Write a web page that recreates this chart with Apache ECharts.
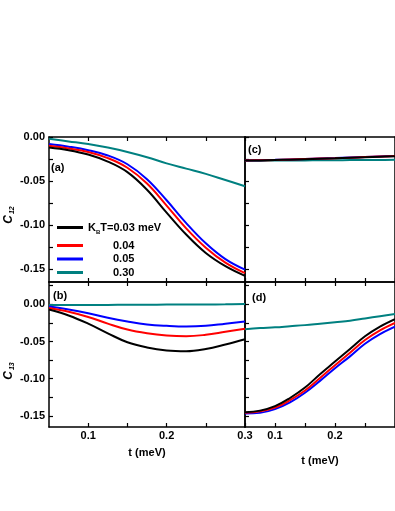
<!DOCTYPE html>
<html>
<head>
<meta charset="utf-8">
<script src="https://cdn.jsdelivr.net/npm/echarts@6/dist/echarts.min.js"></script>
<style>
  html, body { margin: 0; padding: 0; background: #fff; }
  #chart { width: 395px; height: 511px; }
</style>
</head>
<body>
<div id="chart"></div>
<script>
// t (meV) grid shared by every curve
const tVals = [0.05, 0.075, 0.1, 0.125, 0.15, 0.175, 0.2, 0.225, 0.25, 0.275, 0.3];
const tempNames = ['0.03', '0.04', '0.05', '0.30'];
const lineColors = ['#000000', '#ff0000', '#0000ff', '#008080'];

// (a) C12, left
const c12a_003 = [-0.012, -0.015, -0.020, -0.028, -0.040, -0.060, -0.086, -0.111, -0.132, -0.147, -0.158];
const c12a_004 = [-0.010, -0.013, -0.017, -0.024, -0.035, -0.053, -0.078, -0.104, -0.126, -0.143, -0.155];
const c12a_005 = [-0.008, -0.011, -0.015, -0.021, -0.031, -0.048, -0.072, -0.098, -0.121, -0.139, -0.151];
const c12a_030 = [-0.002, -0.005, -0.008, -0.012, -0.017, -0.023, -0.030, -0.036, -0.042, -0.049, -0.056];
// (c) C12, right
const c12c_003 = [-0.0268, -0.0266, -0.0262, -0.0258, -0.0253, -0.0248, -0.0243, -0.0237, -0.0231, -0.0225, -0.0219];
const c12c_004 = [-0.0267, -0.0265, -0.0261, -0.0256, -0.0251, -0.0246, -0.0241, -0.0235, -0.0229, -0.0223, -0.0217];
const c12c_005 = [-0.0266, -0.0264, -0.0260, -0.0255, -0.0250, -0.0245, -0.0240, -0.0234, -0.0228, -0.0222, -0.0216];
const c12c_030 = [-0.0270, -0.0269, -0.0268, -0.0267, -0.0266, -0.0265, -0.0264, -0.0263, -0.0262, -0.0261, -0.0260];
// (b) C13, left
const c13b_003 = [-0.007, -0.015, -0.026, -0.039, -0.051, -0.058, -0.062, -0.063, -0.060, -0.054, -0.047];
const c13b_004 = [-0.005, -0.010, -0.017, -0.026, -0.034, -0.039, -0.042, -0.043, -0.041, -0.037, -0.033];
const c13b_005 = [-0.003, -0.007, -0.012, -0.018, -0.023, -0.027, -0.029, -0.030, -0.029, -0.026, -0.023];
const c13b_030 = [-0.001, -0.001, -0.001, -0.0008, -0.0006, -0.0005, -0.0004, -0.0003, -0.0002, 0.0, 0.0003];
// (d) C13, right
const c13d_003 = [-0.145, -0.143, -0.137, -0.126, -0.112, -0.094, -0.077, -0.060, -0.043, -0.030, -0.020];
const c13d_004 = [-0.146, -0.144, -0.139, -0.129, -0.116, -0.099, -0.082, -0.065, -0.048, -0.035, -0.025];
const c13d_005 = [-0.147, -0.146, -0.141, -0.132, -0.119, -0.103, -0.086, -0.070, -0.053, -0.040, -0.030];
const c13d_030 = [-0.0335, -0.032, -0.031, -0.0295, -0.028, -0.026, -0.024, -0.022, -0.019, -0.016, -0.013];

const xTicks = [0.1, 0.15, 0.2, 0.25, 0.3];
const yTicksTop = [0, -0.025, -0.05, -0.075, -0.1, -0.125, -0.15];
const yTicksBottom = [0.025, 0, -0.025, -0.05, -0.075, -0.1, -0.125, -0.15];
const yLabels = [0, -0.05, -0.1, -0.15];

const FONT = 'Liberation Sans, Arial, sans-serif';
const labelStyle = { fontFamily: FONT, fontSize: 11, fontWeight: 'bold', color: '#000' };
const lineStyle = { color: '#000', width: 1.5 };

const chartDom = document.getElementById('chart');
const myChart = echarts.init(chartDom);

const grids = [
  { left: 49, top: 137, width: 196, height: 145 },   // (a)
  { left: 245, top: 137, width: 197.5, height: 145 }, // (c)
  { left: 49, top: 282, width: 196, height: 145 },   // (b)
  { left: 245, top: 282, width: 197.5, height: 145 }  // (d)
];

const xAxes = [];
const yAxes = [];
const xLabelSets = [null, null, [0.1, 0.2, 0.3], [0.1, 0.2]];
const xNameGaps = [0, 0, 20, 28];
grids.forEach((g, gi) => {
  const bottomIdx = xAxes.length;
  xAxes.push({
    type: 'value', gridIndex: gi, position: 'bottom', min: 0.05, max: 0.3,
    splitLine: { show: false },
    axisLine: { show: true, onZero: false, lineStyle: lineStyle },
    axisTick: { show: true, inside: true, length: 4, customValues: xTicks, lineStyle: { width: 1.2 } },
    axisLabel: xLabelSets[gi]
      ? Object.assign({ margin: 3, customValues: xLabelSets[gi], formatter: v => v.toFixed(1) }, labelStyle)
      : { show: false },
    name: xLabelSets[gi] ? 't (meV)' : '',
    nameLocation: 'middle',
    nameGap: xNameGaps[gi],
    nameTextStyle: labelStyle
  });
  xAxes.push({
    type: 'value', gridIndex: gi, position: 'top', min: 0.05, max: 0.3,
    splitLine: { show: false },
    axisLine: { show: true, onZero: false, lineStyle: lineStyle },
    axisTick: { show: true, inside: true, length: 4, customValues: xTicks, lineStyle: { width: 1.2 } },
    axisLabel: { show: false }
  });
  const top = gi < 2;
  const leftIdx = yAxes.length;
  yAxes.push({
    type: 'value', gridIndex: gi, position: 'left',
    min: -0.165, max: top ? 0 : 0.03,
    splitLine: { show: false },
    axisLine: { show: true, onZero: false, lineStyle: lineStyle },
    axisTick: { show: true, inside: true, length: 4, customValues: top ? yTicksTop : yTicksBottom, lineStyle: { width: 1.2 } },
    axisLabel: (gi % 2 === 0)
      ? Object.assign({ margin: 4, customValues: yLabels, formatter: v => v.toFixed(2) }, labelStyle)
      : { show: false }
  });
  yAxes.push({
    type: 'value', gridIndex: gi, position: 'right',
    min: -0.165, max: top ? 0 : 0.03,
    splitLine: { show: false },
    axisLine: { show: true, onZero: false, lineStyle: lineStyle },
    axisTick: { show: false },
    axisLabel: { show: false }
  });
  g.xIdx = bottomIdx;
  g.yIdx = leftIdx;
});

const panelData = [
  [c12a_003, c12a_004, c12a_005, c12a_030],
  [c12c_003, c12c_004, c12c_005, c12c_030],
  [c13b_003, c13b_004, c13b_005, c13b_030],
  [c13d_003, c13d_004, c13d_005, c13d_030]
];

const series = [];
panelData.forEach((curves, gi) => {
  curves.forEach((vals, k) => {
    series.push({
      name: tempNames[k],
      type: 'line',
      xAxisIndex: grids[gi].xIdx,
      yAxisIndex: grids[gi].yIdx,
      data: tVals.map((t, i) => [t, vals[i]]),
      smooth: 0.4,
      showSymbol: false,
      lineStyle: { width: 2, color: lineColors[k] },
      itemStyle: { color: lineColors[k] },
      z: 3 + (3 - k)
    });
  });
});

const richLegend = {
  k: { fontFamily: FONT, fontSize: 11, fontWeight: 'bold', lineHeight: 20 },
  sb: { fontFamily: FONT, fontSize: 6, fontWeight: 'bold', lineHeight: 20, verticalAlign: 'bottom', padding: [0, 0, 2, 0] },
  v: { fontFamily: FONT, fontSize: 11, fontWeight: 'bold', lineHeight: 14, padding: [0, 0, 0, 25] }
};

const yName = (x, y, sub) => ({
  type: 'text', x: x, y: y, rotation: Math.PI / 2,
  style: {
    text: '{c|C}{s|' + sub + '}',
    align: 'center', verticalAlign: 'middle',
    rich: {
      c: { fontFamily: FONT, fontSize: 12, fontWeight: 'bold', fontStyle: 'italic', lineHeight: 14 },
      s: { fontFamily: FONT, fontSize: 7, fontWeight: 'bold', fontStyle: 'italic', lineHeight: 14, verticalAlign: 'bottom', padding: [0, 0, 0, 1] }
    }
  }
});
const panelLabel = (x, y, txt) => ({
  type: 'text', x: x, y: y,
  style: { text: txt, font: 'bold 11px ' + FONT, fill: '#000', verticalAlign: 'middle' }
});

const option = {
  animation: false,
  backgroundColor: '#fff',
  grid: grids.map(g => ({ left: g.left, top: g.top, width: g.width, height: g.height })),
  xAxis: xAxes,
  yAxis: yAxes,
  legend: {
    data: tempNames,
    orient: 'vertical',
    left: 57, top: 222,
    itemWidth: 26, itemHeight: 3, itemGap: 2.5,
    icon: 'rect',
    padding: 0,
    textStyle: { fontFamily: FONT, fontSize: 11, fontWeight: 'bold', color: '#000', rich: richLegend },
    formatter: name => name === '0.03' ? '{k|K}{sb|B}{k|T=0.03 meV}' : '{v|' + name + '}'
  },
  graphic: [
    yName(9, 215, '12'),
    yName(9, 371, '13'),
    panelLabel(51, 168, '(a)'),
    panelLabel(53, 296, '(b)'),
    panelLabel(248, 150, '(c)'),
    panelLabel(252, 298, '(d)')
  ],
  series: series
};

myChart.setOption(option);
</script>
</body>
</html>
